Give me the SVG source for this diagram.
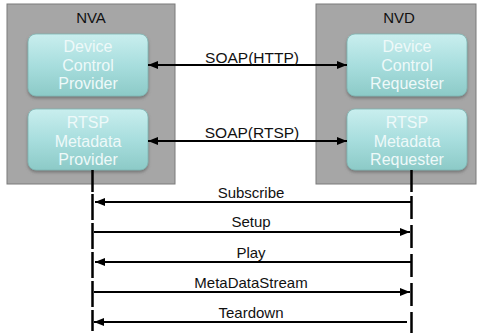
<svg xmlns="http://www.w3.org/2000/svg" width="481" height="336" viewBox="0 0 481 336">
<style>
.outer{fill:#a6a6a6;stroke:#7a7a7a;stroke-width:1}
.inner{fill:url(#g);stroke:#7fb5b2;stroke-width:0.8;filter:url(#sh)}
.title{font-family:"Liberation Sans",Arial,sans-serif;font-size:15px;fill:#111;text-anchor:middle}
.it{font-family:"Liberation Sans",Arial,sans-serif;font-size:16px;fill:#eef9f9;text-anchor:middle}
.lbl{font-family:"Liberation Sans",Arial,sans-serif;font-size:15px;fill:#111;text-anchor:middle}
.soap{font-family:"Liberation Sans",Arial,sans-serif;font-size:15.5px;fill:#111;text-anchor:middle}
.ln{stroke:#000;stroke-width:2;fill:none}
.life{stroke:#000;stroke-width:2.5;fill:none}
</style>
<defs>
<linearGradient id="g" x1="0" y1="0" x2="0" y2="1">
<stop offset="0" stop-color="#c9eeee"/>
<stop offset="0.5" stop-color="#a8dede"/>
<stop offset="1" stop-color="#8ccac7"/>
</linearGradient>
<filter id="sh" x="-10%" y="-10%" width="120%" height="130%">
<feDropShadow dx="0" dy="2" stdDeviation="1.5" flood-color="#555" flood-opacity="0.6"/>
</filter>
<marker id="ah" viewBox="0 0 10 8" refX="10" refY="4" markerWidth="10" markerHeight="8" markerUnits="userSpaceOnUse" orient="auto-start-reverse">
<path d="M0,0 L10,4 L0,8 Z" fill="#000"/>
</marker>
</defs>
<g id="nva">
<rect class="outer" x="7" y="4" width="168" height="180"/>
<text class="title" x="91" y="23">NVA</text>
</g>
<g id="nvd">
<rect class="outer" x="316" y="4" width="160" height="180"/>
<text class="title" x="399" y="23">NVD</text>
</g>
<g id="device-control-provider">
<rect class="inner" x="28" y="34" width="120" height="62" rx="8"/>
<text class="it" x="88" y="52">Device</text>
<text class="it" x="88" y="71">Control</text>
<text class="it" x="88" y="89">Provider</text>
</g>
<g id="rtsp-metadata-provider">
<rect class="inner" x="28" y="109" width="120" height="61" rx="8"/>
<text class="it" x="88" y="128">RTSP</text>
<text class="it" x="88" y="147">Metadata</text>
<text class="it" x="88" y="165">Provider</text>
</g>
<g id="device-control-requester">
<rect class="inner" x="347" y="34" width="120" height="62" rx="8"/>
<text class="it" x="407" y="52">Device</text>
<text class="it" x="407" y="71">Control</text>
<text class="it" x="407" y="89">Requester</text>
</g>
<g id="rtsp-metadata-requester">
<rect class="inner" x="347" y="109" width="120" height="61" rx="8"/>
<text class="it" x="407" y="128">RTSP</text>
<text class="it" x="407" y="147">Metadata</text>
<text class="it" x="407" y="165">Requester</text>
</g>
<g id="connectors">
<line class="ln" x1="148" y1="65" x2="347" y2="65" marker-start="url(#ah)" marker-end="url(#ah)"/>
<text class="soap" x="252" y="63">SOAP(HTTP)</text>
<line class="ln" x1="148" y1="141" x2="347" y2="141" marker-start="url(#ah)" marker-end="url(#ah)"/>
<text class="soap" x="252" y="138">SOAP(RTSP)</text>
<line class="life" x1="92.5" y1="170" x2="92.5" y2="192"/>
<line class="life" x1="92.5" y1="194" x2="92.5" y2="331" stroke-dasharray="26 3"/>
<line class="life" x1="411.5" y1="170" x2="411.5" y2="192"/>
<line class="life" x1="411.5" y1="196" x2="411.5" y2="333" stroke-dasharray="23 6"/>
<line class="ln" x1="411" y1="202" x2="95" y2="202" marker-end="url(#ah)"/>
<text class="lbl" x="251" y="198">Subscribe</text>
<line class="ln" x1="94" y1="232" x2="410" y2="232" marker-end="url(#ah)"/>
<text class="lbl" x="251" y="227">Setup</text>
<line class="ln" x1="411" y1="262" x2="95" y2="262" marker-end="url(#ah)"/>
<text class="lbl" x="251" y="258">Play</text>
<line class="ln" x1="94" y1="292" x2="410" y2="292" marker-end="url(#ah)"/>
<text class="lbl" x="251" y="288">MetaDataStream</text>
<line class="ln" x1="407" y1="322" x2="94" y2="322" marker-end="url(#ah)"/>
<text class="lbl" x="251" y="318">Teardown</text>
</g>
</svg>
